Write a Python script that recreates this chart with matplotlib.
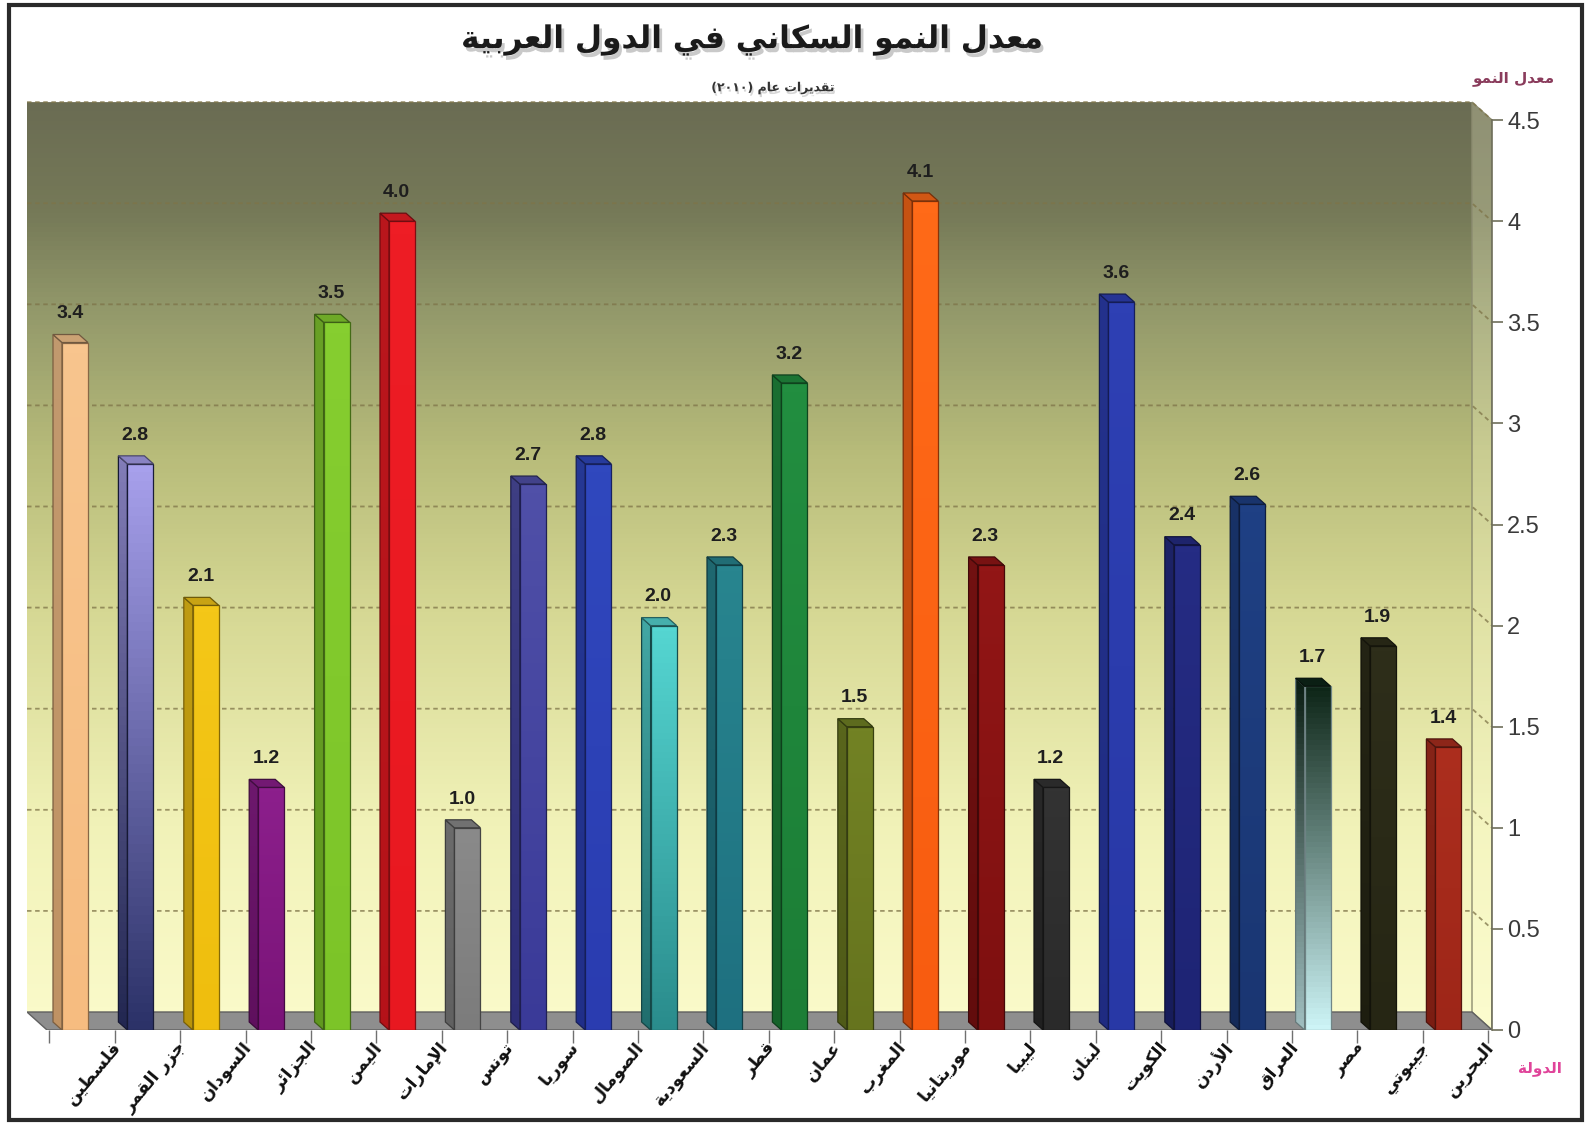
import numpy as np
import matplotlib
matplotlib.use("Agg")
import matplotlib.pyplot as plt
from matplotlib.patches import Polygon, Rectangle
from matplotlib.colors import to_rgb
import matplotlib.patheffects as pe

# data
countries = ["فلسطين", "جزر القمر", "السودان", "الجزائر", "اليمن", "الإمارات",
             "تونس", "سوريا", "الصومال", "السعودية", "قطر", "عمان", "المغرب",
             "موريتانيا", "ليبيا", "لبنان", "الكويت", "الأردن", "العراق", "مصر",
             "جيبوتي", "البحرين"]
growth = [3.4, 2.8, 2.1, 1.2, 3.5, 4.0, 1.0, 2.7, 2.8, 2.0, 2.3, 3.2, 1.5,
          4.1, 2.3, 1.2, 3.6, 2.4, 2.6, 1.7, 1.9, 1.4]
y_ticks = [0, 0.5, 1, 1.5, 2, 2.5, 3, 3.5, 4, 4.5]
y_tick_labels = ["0", "0.5", "1", "1.5", "2", "2.5", "3", "3.5", "4", "4.5"]

# bar colours: (top, bottom)
bar_colors = [("#F8C58E", "#F6BC80"), ("#A7A0EC", "#2C3268"), ("#F4C718", "#EFBE0E"),
              ("#8C1F8C", "#7A1478"), ("#86CE30", "#7CC428"), ("#EE1D25", "#E81820"),
              ("#8A8A8A", "#7C7C7C"), ("#5050A8", "#3A3A98"), ("#3048BE", "#2A3CB0"),
              ("#55D6D2", "#2A8C8C"), ("#28858F", "#1E7080"), ("#228E40", "#1C7E36"),
              ("#728224", "#66741E"), ("#FF6A18", "#F85C10"), ("#921616", "#7E1010"),
              ("#333333", "#2A2A2A"), ("#2E40B4", "#2838A6"), ("#252C84", "#1E2474"),
              ("#1F4084", "#1A3672"), ("#0E2618", "#CDF4F6"), ("#2E2E1A", "#262614"),
              ("#AC2E1E", "#9E2618")]

title = "معدل النمو السكاني في الدول العربية"
subtitle = "تقديرات عام"
subtitle_year = "(٢٠١٠)"
y_title = "معدل النمو"
x_title = "الدولة"


# --- minimal arabic shaping (matplotlib has no complex text layout) ---
AR_LETTERS = "ءآأؤإئابةتثجحخدذرزسشصضطظعغفقكلمنهوىي"
AR_NFORMS = [1, 2, 2, 2, 2, 4, 2, 4, 2, 4, 4, 4, 4, 4, 2, 2, 2, 2, 4, 4, 4, 4, 4,
             4, 4, 4, 4, 4, 4, 4, 4, 4, 4, 2, 2, 4]
FORMS = {}
_b = 0xFE80
for _c, _n in zip(AR_LETTERS, AR_NFORMS):
    FORMS[_c] = (_b, _n)
    _b += _n
LAM_ALEF = {"ا": 0xFEFB, "أ": 0xFEF7, "إ": 0xFEF9, "آ": 0xFEF5}


def shape_ar(text):
    units = []
    i = 0
    while i < len(text):
        c = text[i]
        if c == "ل" and i + 1 < len(text) and text[i + 1] in LAM_ALEF:
            units.append(("LA", LAM_ALEF[text[i + 1]]))
            i += 2
        else:
            units.append(("C", c))
            i += 1

    def joins_next(u):
        return u[0] == "C" and u[1] in FORMS and FORMS[u[1]][1] == 4

    def joins_prev(u):
        return u[0] == "LA" or (u[1] in FORMS and FORMS[u[1]][1] >= 2)

    out = []
    for k, u in enumerate(units):
        prev = units[k - 1] if k > 0 else None
        nxt = units[k + 1] if k + 1 < len(units) else None
        jp = prev is not None and joins_next(prev) and joins_prev(u)
        if u[0] == "LA":
            out.append(chr(u[1] + (1 if jp else 0)))
            continue
        c = u[1]
        if c not in FORMS:
            out.append(c)
            continue
        base, n = FORMS[c]
        jn = n == 4 and nxt is not None and joins_prev(nxt)
        if n == 1:
            form = 0
        elif jp and jn:
            form = 3
        elif jp:
            form = 1
        elif jn:
            form = 2
        else:
            form = 0
        out.append(chr(base + form))
    return "".join(reversed(out))


def shade(c, f):
    r, g, b = to_rgb(c)
    return (r * f, g * f, b * f)


def grad_image(top, bottom, n=64, f=1.0):
    t = np.linspace(0, 1, n)[:, None]
    a = np.array(shade(top, f))
    b = np.array(shade(bottom, f))
    return (a * (1 - t) + b * t)[:, None, :]


W, H = 1586, 1123
fig = plt.figure(figsize=(W / 100, H / 100), dpi=100)
fig.patch.set_facecolor("white")

XU, YU = 65.4, 202.2          # pixels per data unit
x_left, x_right = (27 - 75) / XU, (1492 - 75) / XU
ymax = 4.6
ax = fig.add_axes([27 / W, (H - 1030) / H, (1492 - 27) / W, ymax * YU / H])
ax.set_facecolor("none")

dxw, dyw = 20 / XU, 18 / YU     # depth of the wall
xbl, xbr = x_left, x_right - dxw
xfl, xfr = x_left + dxw, x_right

# wall gradient (back wall + right side)
wall_cmap = [(0.0, "#FBFBCB"), (0.22, "#F1F2B8"), (0.45, "#D6D894"),
             (0.62, "#B8BC7A"), (0.78, "#92986A"), (0.88, "#767A58"), (1.0, "#6A6C53")]
yy = np.linspace(0, 1, 200)
stops = np.array([s for s, _ in wall_cmap])
cols = np.array([to_rgb(c) for _, c in wall_cmap])
wall_img = np.stack([np.interp(yy, stops, cols[:, k]) for k in range(3)], axis=1)[::-1][:, None, :]
wall_path = Polygon([(xbl, dyw), (xbr, dyw), (xfr, 0), (xfr, 4.5), (xbr, 4.5 + dyw), (xbl, 4.5 + dyw)],
                    closed=True, transform=ax.transData)
im = ax.imshow(wall_img, extent=[xbl, xfr, 0, 4.5 + dyw], aspect="auto", zorder=0)
im.set_clip_path(wall_path)
ax.add_patch(Polygon([(xbr, dyw), (xfr, 0), (xfr, 4.5), (xbr, 4.5 + dyw)], closed=True,
                     facecolor=(1, 1, 0.85, 0.25), edgecolor="#8C8C70", lw=1, zorder=1))

# floor
ax.add_patch(Polygon([(xbl, dyw), (xbr, dyw), (xfr, 0), (xfl, 0)], closed=True,
                     facecolor="#8E8E8E", edgecolor="#606060", lw=1, zorder=1))

# grid lines on the wall
for yv in y_ticks[1:]:
    ax.plot([xbl, xbr, xfr], [yv + dyw, yv + dyw, yv], color="#7E7448", lw=1.3,
            ls=(0, (2.5, 2)), alpha=0.75, zorder=1)

# bars
hw = 13 / XU
bdx, bdy = 9 / XU, 8 / YU
xpos = np.arange(len(growth))
for x, v, (ct, cb) in zip(xpos, growth, bar_colors):
    x0, x1 = x - hw, x + hw
    ax.imshow(grad_image(ct, cb), extent=[x0, x1, 0, v], aspect="auto", zorder=3)
    ax.add_patch(Rectangle((x0, 0), 2 * hw, v, fill=False, edgecolor=shade(cb, 0.55), lw=0.9, zorder=4))
    side = Polygon([(x0, 0), (x0, v), (x0 - bdx, v + bdy), (x0 - bdx, bdy)], closed=True,
                   facecolor="none", edgecolor=shade(cb, 0.5), lw=0.9, zorder=4)
    ax.add_patch(side)
    sim = ax.imshow(grad_image(ct, cb, f=0.78), extent=[x0 - bdx, x0, 0, v + bdy], aspect="auto", zorder=3)
    sim.set_clip_path(Polygon([(x0, 0), (x0, v), (x0 - bdx, v + bdy), (x0 - bdx, bdy)],
                              closed=True, transform=ax.transData))
    ax.add_patch(Polygon([(x0, v), (x1, v), (x1 - bdx, v + bdy), (x0 - bdx, v + bdy)], closed=True,
                         facecolor=shade(ct, 0.82), edgecolor=shade(ct, 0.45), lw=0.9, zorder=4))
    ax.text(x - 0.08, v + 0.12, f"{v:.1f}", ha="center", va="baseline", fontsize=14,
            fontweight="bold", color="#1E1E1E", family="Liberation Sans", zorder=5)

ax.set_xlim(x_left, x_right)
ax.set_ylim(0, ymax)

# axes styling
for s in ["left", "top", "bottom"]:
    ax.spines[s].set_visible(False)
ax.spines["right"].set_bounds(0, 4.5)
ax.spines["right"].set_color("#6E6E5A")
ax.spines["right"].set_linewidth(1.2)
ax.yaxis.tick_right()
ax.set_yticks(y_ticks)
ax.set_yticklabels(y_tick_labels, fontsize=17, color="#3A3A3A", family="Liberation Sans")
ax.tick_params(axis="y", length=8, width=1.2, color="#6E6E5A", pad=3)
ax.set_xticks(np.append(xpos - 0.39, xpos[-1] + 0.61))
ax.set_xticklabels([])
ax.tick_params(axis="x", length=9, width=1, color="#707070")

for x, name in zip(xpos, countries):
    ax.text(x + 0.55, -0.04, shape_ar(name), rotation=50, rotation_mode="anchor",
            ha="right", va="top", fontsize=12.5, fontweight="bold", color="#111111",
            family="DejaVu Sans", clip_on=False)

# titles
fig.text(752 / W, 1 - 40 / H, shape_ar(title), ha="center", va="center", fontsize=22.5,
         fontweight="bold", color="#1A1A1A", family="DejaVu Sans",
         path_effects=[pe.SimplePatchShadow(offset=(2, -3), shadow_rgbFace="#888888", alpha=0.45),
                       pe.Normal()])
fig.text(773 / W, 1 - 88 / H, subtitle_year + " " + shape_ar(subtitle), ha="center", va="center",
         fontsize=9, fontweight="bold", color="#333333", family="DejaVu Sans",
         path_effects=[pe.SimplePatchShadow(offset=(1, -2), shadow_rgbFace="#999999", alpha=0.4),
                       pe.Normal()])
fig.text(1514 / W, 1 - 78 / H, shape_ar(y_title), ha="center", va="center", fontsize=11,
         fontweight="bold", color="#8A3C5C", family="DejaVu Sans")
fig.text(1540 / W, 1 - 1068 / H, shape_ar(x_title), ha="center", va="center", fontsize=11,
         fontweight="bold", color="#E0449A", family="DejaVu Sans")

# outer frame
fig.add_artist(Rectangle((9 / W, 3 / H), (1582 - 9) / W, (1118 - 3) / H, transform=fig.transFigure,
                         fill=False, edgecolor="#2A2A2A", lw=3))

fig.savefig("out.png", dpi=100)
